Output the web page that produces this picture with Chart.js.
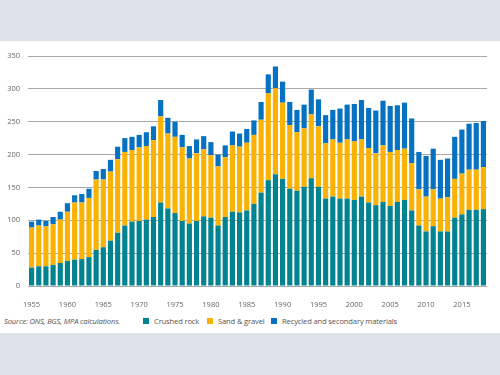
<!DOCTYPE html>
<html>
<head>
<meta charset="utf-8">
<script src="https://cdn.jsdelivr.net/npm/chart.js@4"></script>
<style>
  body { margin: 0; background: #dce2e8; width: 500px; height: 375px; overflow: hidden; font-family: "Open Sans", sans-serif; }
  #panel { position: absolute; left: 0; top: 41px; width: 500px; height: 292px; background: #fff; }
  #wrap { position: absolute; left: 0; top: 0; width: 500px; height: 270px; }
  #foot { position: absolute; left: 0; top: 275px; width: 500px; font-size: 7.6px; color: #555; letter-spacing: -0.15px; }
  #foot span { position: absolute; top: 0; white-space: nowrap; }
  .sq { width: 6px; height: 6px; top: 2px !important; }
</style>
</head>
<body>
<div id="panel">
  <div id="wrap"><canvas id="chart"></canvas></div>
  <div id="foot">
    <span style="left:4px; font-style: italic;">Source: ONS, BGS, MPA calculations.</span>
    <span class="sq" style="left:143px; background:#008391;"></span>
    <span style="left:154px;">Crushed rock</span>
    <span class="sq" style="left:207px; background:#fbb203;"></span>
    <span style="left:218px;">Sand &amp; gravel</span>
    <span class="sq" style="left:271px; background:#0571c1;"></span>
    <span style="left:282px;">Recycled and secondary materials</span>
  </div>
</div>
<script>
const years = [];
for (let y = 1955; y <= 2018; y++) years.push(y);

// million tonnes
const crushedRock = [
  28, 30, 30, 32, 35, 38, 40, 41, 44, 55,
  59, 69, 81, 92, 98, 99, 101, 105, 127, 118,
  111, 99, 95, 99, 106, 104, 92, 105, 113, 112,
  115, 125, 142, 161, 170, 163, 148, 145, 151, 164,
  151, 133, 136, 133, 133, 131, 136, 127, 123, 128,
  122, 128, 131, 115, 92, 83, 91, 83, 83, 104,
  109, 116, 116, 117
];
const sandGravel = [
  61, 62, 61, 62, 66, 75, 87, 86, 90, 107,
  103, 105, 112, 112, 109, 112, 112, 117, 131, 114,
  116, 112, 99, 103, 102, 95, 90, 91, 101, 100,
  103, 105, 111, 132, 131, 116, 97, 89, 89, 97,
  92, 84, 87, 85, 90, 89, 87, 83, 79, 86,
  82, 79, 78, 72, 55, 53, 56, 50, 52, 59,
  62, 61, 61, 64
];
const recycled = [
  9, 9, 8, 11, 12, 13, 11, 13, 14, 13,
  16, 18, 19, 21, 20, 19, 21, 21, 25, 24,
  23, 19, 19, 21, 20, 20, 18, 18, 21, 20,
  21, 22, 27, 29, 33, 32, 35, 34, 36, 38,
  41, 43, 45, 52, 53, 57, 60, 61, 65, 68,
  70, 68, 70, 68, 57, 62, 62, 59, 59, 64,
  67, 70, 71, 70
];
const yTicks = [0, 50, 100, 150, 200, 250, 300, 350];

const tickFont = { family: '"Open Sans", sans-serif', size: 7.5 };

const ctx = document.getElementById('chart').getContext('2d');
const chart = new Chart(ctx, {
  type: 'bar',
  data: {
    labels: years,
    datasets: [
      { label: 'Crushed rock', data: crushedRock, backgroundColor: '#008391' },
      { label: 'Sand & gravel', data: sandGravel, backgroundColor: '#fbb203' },
      { label: 'Recycled and secondary materials', data: recycled, backgroundColor: '#0571c1' }
    ]
  },
  options: {
    responsive: true,
    maintainAspectRatio: false,
    animation: false,
    layout: { padding: { top: 15, right: 13, bottom: 0, left: 0 } },
    datasets: { bar: { barPercentage: 0.72, categoryPercentage: 1 } },
    plugins: { legend: { display: false }, tooltip: { enabled: false } },
    scales: {
      x: {
        stacked: true,
        grid: { display: false },
        border: { display: false },
        ticks: {
          autoSkip: false,
          maxRotation: 0,
          padding: 6,
          color: '#666',
          font: tickFont,
          callback: (v, i) => (years[i] % 5 === 0 ? years[i] : '')
        },
        afterFit: (s) => { s.height = 25; }
      },
      y: {
        stacked: true,
        min: 0,
        max: 350,
        afterBuildTicks: (s) => { s.ticks = yTicks.map(v => ({ value: v })); },
        grid: { color: '#a9a9a9', lineWidth: 1, drawTicks: false },
        border: { display: false },
        ticks: { padding: 8, color: '#666', font: tickFont },
        afterFit: (s) => { s.width = 28; }
      }
    }
  }
});
</script>
</body>
</html>
